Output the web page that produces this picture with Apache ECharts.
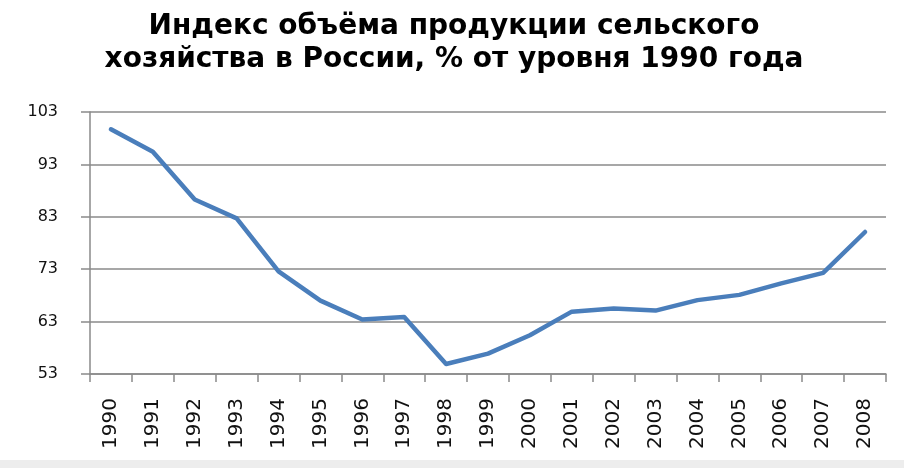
<!DOCTYPE html>
<html>
<head>
<meta charset="utf-8">
<script src="https://cdn.jsdelivr.net/npm/echarts@6/dist/echarts.min.js"></script>
<style>
  html, body { margin: 0; padding: 0; background: #fff; }
</style>
</head>
<body>
<div id="main" style="width: 904px;height:468px;"></div>

<script type="text/javascript">
  // годы и индекс (% от 1990)
  var years = ['1990', '1991', '1992', '1993', '1994', '1995', '1996', '1997', '1998', '1999',
               '2000', '2001', '2002', '2003', '2004', '2005', '2006', '2007', '2008'];
  var index = [99.7, 95.4, 86.3, 82.7, 72.6, 67.0, 63.4, 63.9, 54.9, 56.9,
               60.4, 64.9, 65.5, 65.1, 67.1, 68.1, 70.3, 72.3, 80.1];
  var yMin = 53;
  var yMax = 103;
  var yStep = 10;

  var gridColor = '#8a8a8a';

  var option = {
    animation: false,
    title: {
      text: 'Индекс объёма продукции сельского\nхозяйства в России, % от уровня 1990 года',
      left: 449,
      textAlign: 'center',
      top: 5,
      textStyle: {
        fontFamily: 'DejaVu Sans',
        fontWeight: 'bold',
        fontSize: 28,
        lineHeight: 33,
        color: '#000'
      }
    },
    grid: {
      left: 90,
      right: 18,
      top: 112,
      bottom: 94
    },
    xAxis: {
      type: 'category',
      data: years,
      boundaryGap: true,
      axisLine: { lineStyle: { color: gridColor, width: 1.5 } },
      axisTick: { show: true, length: 8, lineStyle: { color: gridColor, width: 1.5 } },
      axisLabel: {
        rotate: 90,
        interval: 0,
        margin: 24,
        fontFamily: 'DejaVu Sans',
        fontSize: 20,
        color: '#111'
      }
    },
    yAxis: {
      type: 'value',
      min: yMin,
      max: yMax,
      interval: yStep,
      axisLine: { show: true, lineStyle: { color: gridColor, width: 1.5 } },
      axisTick: { show: true, length: 9, lineStyle: { color: gridColor, width: 1.5 } },
      splitLine: { lineStyle: { color: gridColor, width: 1.5 } },
      axisLabel: {
        margin: 32,
        fontFamily: 'DejaVu Sans',
        fontSize: 16,
        color: '#111'
      }
    },
    graphic: [{
      type: 'rect',
      shape: { x: 0, y: 460, width: 904, height: 8 },
      style: { fill: '#ededed' },
      silent: true
    }],
    series: [{
      type: 'line',
      data: index,
      symbol: 'none',
      smooth: false,
      lineStyle: { color: '#4a7ebb', width: 4.5, join: 'round', cap: 'round' }
    }]
  };

  var myChart = echarts.init(document.getElementById('main'));
  myChart.setOption(option);
</script>
</body>
</html>
